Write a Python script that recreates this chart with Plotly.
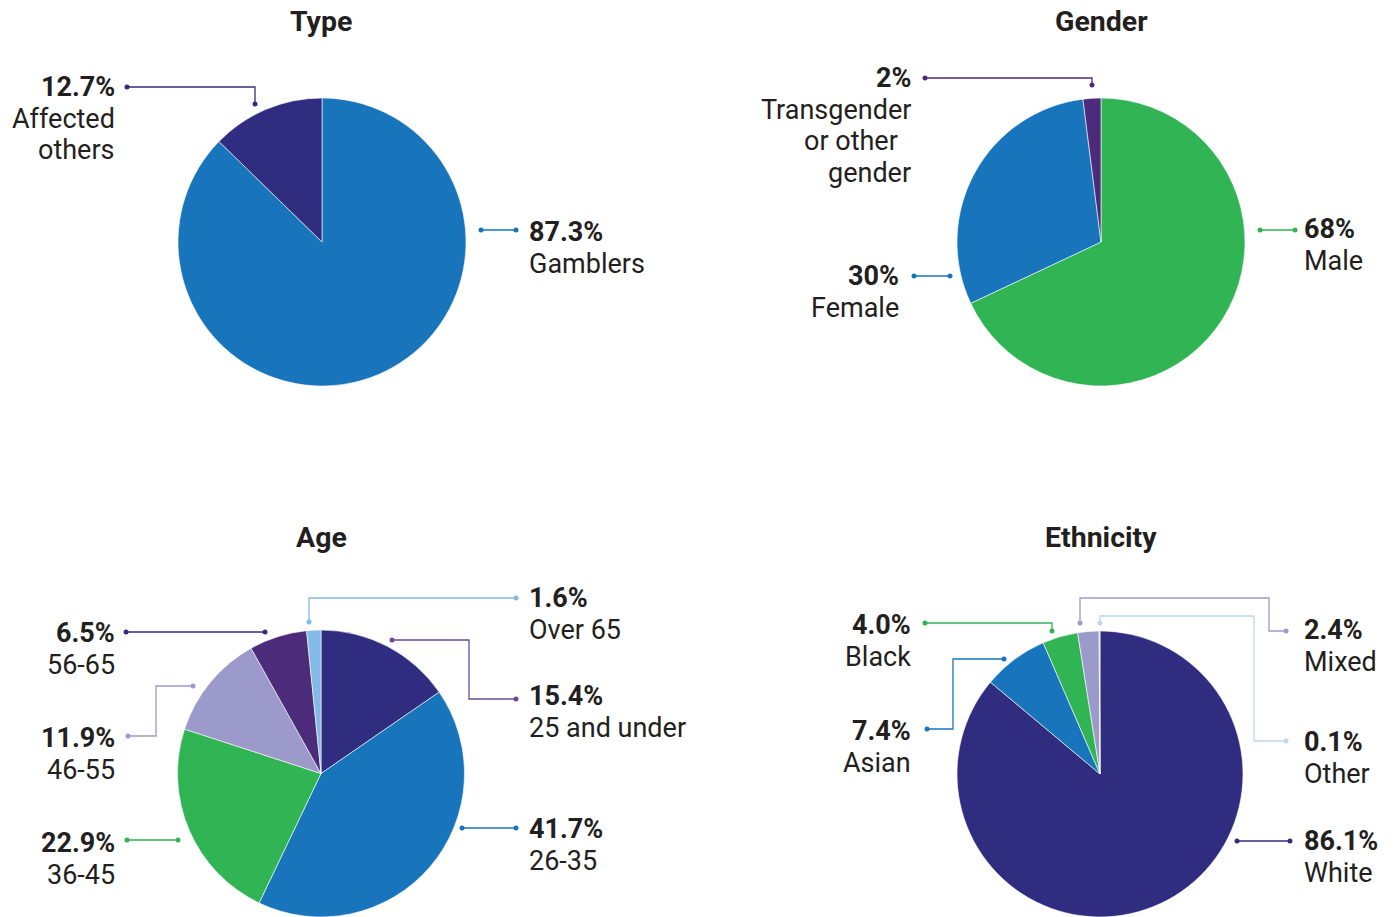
import plotly.graph_objects as go

W, H = 1396, 917

# ---- data ----
type_labels = ['Gamblers', 'Affected others']
type_values = [87.3, 12.7]

gender_labels = ['Male', 'Female', 'Transgender or other gender']
gender_values = [68, 30, 2]

age_labels = ['25 and under', '26-35', '36-45', '46-55', '56-65', 'Over 65']
age_values = [15.4, 41.7, 22.9, 11.9, 6.5, 1.6]

eth_labels = ['White', 'Asian', 'Black', 'Mixed', 'Other']
eth_values = [86.1, 7.4, 4.0, 2.4, 0.1]

# ---- colours ----
NAVY = '#302D81'
BLUE = '#1874BB'
GREEN = '#31B454'
PURPLE = '#4C2B7A'
LAV = '#9C9ACB'
LBLUE = '#82B9E6'
PALE = '#BED8EF'
TXT = '#231F20'
FONT = 'Roboto'

R = 144


def px_x(x):
    return x / W


def px_y(y):
    return 1 - y / H


def dom(cx, cy):
    return dict(x=[px_x(cx - R), px_x(cx + R)],
                y=[max(0, px_y(cy + R)), min(1, px_y(cy - R))])


fig = go.Figure()

pies = [
    (type_labels, type_values, [BLUE, NAVY], (322, 242)),
    (gender_labels, gender_values, [GREEN, BLUE, PURPLE], (1101, 242)),
    (age_labels, age_values, [NAVY, BLUE, GREEN, LAV, PURPLE, LBLUE], (321, 774)),
    (eth_labels, eth_values, [NAVY, BLUE, GREEN, LAV, PALE], (1100, 775)),
]
for labels, values, cols, (cx, cy) in pies:
    fig.add_trace(go.Pie(
        labels=labels, values=values, sort=False, direction='clockwise',
        rotation=0, textinfo='none', showlegend=False,
        marker=dict(colors=cols, line=dict(color='white', width=0.6)),
        domain=dom(cx, cy),
    ))

# leader lines: (points, colour)
leaders = [
    ([(127, 87), (255, 87), (255, 104)], NAVY),
    ([(481, 230), (516, 230)], BLUE),
    ([(925, 78), (1092, 78), (1092, 85)], PURPLE),
    ([(914, 276), (950, 276)], BLUE),
    ([(1260, 230), (1295, 230)], GREEN),
    ([(309, 622), (309, 598), (516, 598)], LBLUE),
    ([(392, 640), (469, 640), (469, 699), (516, 699)], '#6A4B98'),
    ([(462, 828), (516, 828)], BLUE),
    ([(126, 632), (265, 632)], NAVY),
    ([(128, 736), (156, 736), (156, 686), (193, 686)], LAV),
    ([(127, 840), (178, 840)], GREEN),
    ([(925, 623), (1052, 623), (1052, 631)], GREEN),
    ([(927, 729), (953, 729), (953, 659), (1004, 659)], BLUE),
    ([(1080, 623), (1080, 598), (1269, 598), (1269, 631), (1286, 631)], LAV),
    ([(1100, 623), (1100, 616), (1254, 616), (1254, 741), (1286, 741)], PALE),
    ([(1237, 841), (1290, 841)], NAVY),
]
for pts, c in leaders:
    xs = [p[0] for p in pts]
    ys = [p[1] for p in pts]
    fig.add_trace(go.Scatter(x=xs, y=ys, mode='lines', line=dict(color=c, width=1.3),
                             hoverinfo='skip', showlegend=False))
    fig.add_trace(go.Scatter(x=[xs[0], xs[-1]], y=[ys[0], ys[-1]], mode='markers',
                             marker=dict(color=c, size=5), hoverinfo='skip', showlegend=False))

# text labels: (x, y, anchor, percent, lines)
labels_txt = [
    (114, 87, 'right', '12.7%', ['Affected', 'others']),
    (530, 232, 'left', '87.3%', ['Gamblers']),
    (910, 78, 'right', '2%', ['Transgender', 'or other\u00a0\u00a0', 'gender']),
    (898, 276, 'right', '30%', ['Female']),
    (1305, 229, 'left', '68%', ['Male']),
    (530, 598, 'left', '1.6%', ['Over 65']),
    (530, 696, 'left', '15.4%', ['25 and under']),
    (530, 829, 'left', '41.7%', ['26-35']),
    (114, 633, 'right', '6.5%', ['56-65']),
    (114, 738, 'right', '11.9%', ['46-55']),
    (114, 843, 'right', '22.9%', ['36-45']),
    (910, 625, 'right', '4.0%', ['Black']),
    (910, 731, 'right', '7.4%', ['Asian']),
    (1305, 630, 'left', '2.4%', ['Mixed']),
    (1305, 742, 'left', '0.1%', ['Other']),
    (1305, 841, 'left', '86.1%', ['White']),
]
ann = []
for x, y, anc, pct, lines in labels_txt:
    x = x + 3 if anc == 'right' else x - 3  # annotation box padding
    ann.append(dict(x=px_x(x), y=px_y(y), xref='paper', yref='paper', text=f'<b>{pct}</b>',
                    showarrow=False, xanchor=anc, yanchor='middle',
                    font=dict(family=FONT, size=27, color=TXT)))
    for i, t in enumerate(lines):
        ann.append(dict(x=px_x(x), y=px_y(y + 31.5 * (i + 1)), xref='paper', yref='paper',
                        text=t, showarrow=False, xanchor=anc, yanchor='middle',
                        font=dict(family=FONT, size=27, color=TXT)))

for t, x, y in [('Type', 321, 21), ('Gender', 1101, 21), ('Age', 321, 537), ('Ethnicity', 1101, 537)]:
    ann.append(dict(x=px_x(x), y=px_y(y), xref='paper', yref='paper', text=f'<b>{t}</b>',
                    showarrow=False, xanchor='center', yanchor='middle',
                    font=dict(family=FONT, size=28.5, color=TXT)))

fig.update_layout(
    width=W, height=H,
    margin=dict(l=0, r=0, t=0, b=0),
    paper_bgcolor='white', plot_bgcolor='rgba(0,0,0,0)',
    annotations=ann,
    xaxis=dict(range=[0, W], visible=False, fixedrange=True, domain=[0, 1]),
    yaxis=dict(range=[H, 0], visible=False, fixedrange=True, domain=[0, 1]),
)

# drop the default 8px page margin so the figure sits flush with the window
fig.write_html('out.html', config={'displayModeBar': False},
               post_script="document.body.style.margin='0px';")
